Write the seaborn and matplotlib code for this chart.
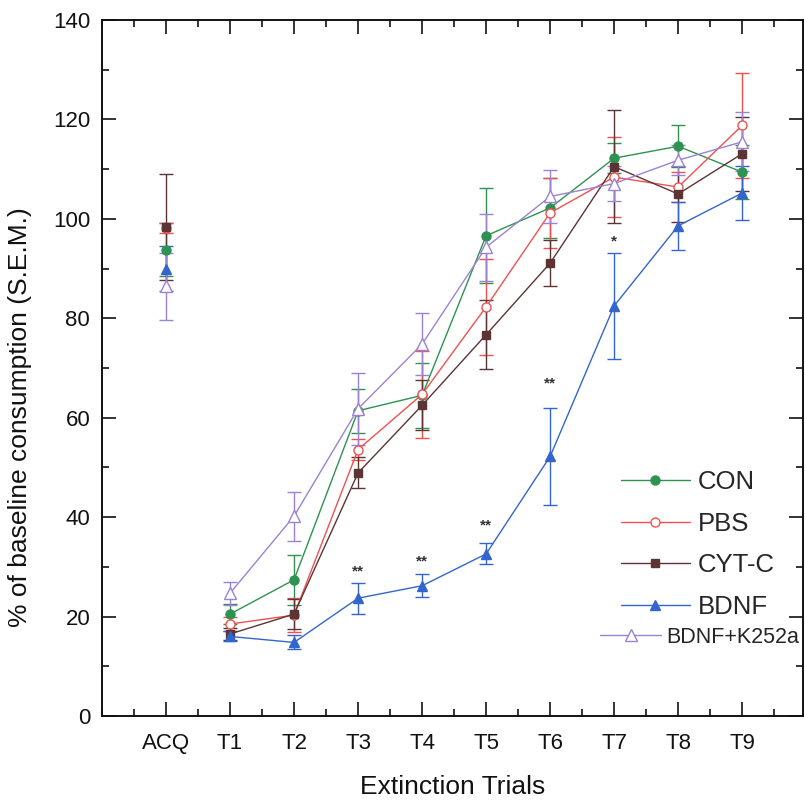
import matplotlib
matplotlib.use("Agg")
import matplotlib.pyplot as plt
from matplotlib.lines import Line2D
from matplotlib.ticker import MultipleLocator
import numpy as np
import pandas as pd
import seaborn as sns

# ---- data ----
trials = ["ACQ", "T1", "T2", "T3", "T4", "T5", "T6", "T7", "T8", "T9"]
groups = ["CON", "PBS", "CYT-C", "BDNF", "BDNF+K252a"]

con_mean = [93.8, 20.5, 27.4, 61.4, 64.5, 96.6, 102.2, 112.2, 114.6, 109.4]
con_sem = [5.3, 2.0, 5.0, 4.4, 6.6, 9.6, 6.0, 3.0, 4.2, 5.5]
pbs_mean = [98.2, 18.5, 20.3, 53.6, 64.7, 82.3, 101.2, 108.4, 106.4, 118.8]
pbs_sem = [1.0, 1.5, 3.5, 2.2, 8.8, 9.7, 7.0, 8.0, 3.0, 10.6]
cyt_mean = [98.4, 16.5, 20.5, 48.9, 62.5, 76.7, 91.1, 110.5, 105.0, 113.1]
cyt_sem = [10.7, 1.2, 3.0, 3.1, 5.0, 7.0, 4.6, 11.3, 5.7, 7.4]
bdnf_mean = [90.0, 16.0, 14.8, 23.7, 26.2, 32.6, 52.2, 82.5, 98.6, 105.2]
bdnf_sem = [4.5, 1.0, 1.4, 3.1, 2.3, 2.1, 9.8, 10.6, 4.8, 5.5]
k252_mean = [86.4, 24.7, 40.2, 61.8, 74.8, 94.3, 104.5, 107.1, 111.8, 115.5]
k252_sem = [6.8, 2.3, 4.9, 7.2, 6.2, 6.7, 5.4, 3.5, 3.0, 5.9]

# significance marks for BDNF
star_trials = ["T3", "T4", "T5", "T6", "T7"]
star_labels = ["**", "**", "**", "**", "*"]
star_y = [29.0, 31.1, 38.4, 66.8, 95.4]

colors = {"CON": "#2e9350", "PBS": "#f25050", "CYT-C": "#5c3434",
          "BDNF": "#3366cc", "BDNF+K252a": "#9b82d2"}
markers = {"CON": "o", "PBS": "o", "CYT-C": "s", "BDNF": "^", "BDNF+K252a": "^"}
open_marker = {"CON": False, "PBS": True, "CYT-C": False, "BDNF": False, "BDNF+K252a": True}
msize = {"CON": 6.5, "PBS": 6.5, "CYT-C": 6.0, "BDNF": 7.5, "BDNF+K252a": 8.0}

means = dict(zip(groups, [con_mean, pbs_mean, cyt_mean, bdnf_mean, k252_mean]))
sems = dict(zip(groups, [con_sem, pbs_sem, cyt_sem, bdnf_sem, k252_sem]))

df = pd.concat(
    [pd.DataFrame({"trial": trials, "pos": np.arange(len(trials)),
                   "mean": means[g], "sem": sems[g], "group": g}) for g in groups],
    ignore_index=True,
)

sns.set_style("ticks")
plt.rcParams["font.family"] = ["Liberation Sans", "DejaVu Sans"]

fig = plt.figure(figsize=(8.05, 8.05), dpi=100)
ax = fig.add_axes([102 / 805, 89 / 805, 701 / 805, 696 / 805])

for g in groups:
    sub = df[df["group"] == g]
    trial_rows = sub[sub["trial"] != "ACQ"]
    acq_row = sub[sub["trial"] == "ACQ"]
    c = colors[g]
    face = "white" if open_marker[g] else c
    ax.errorbar(sub["pos"], sub["mean"], yerr=sub["sem"], fmt="none",
                ecolor=c, elinewidth=1.0, capsize=4.7, capthick=1.0, zorder=2)
    sns.lineplot(data=trial_rows, x="pos", y="mean", color=c, linewidth=1.0,
                 marker=markers[g], markersize=msize[g], markerfacecolor=face,
                 markeredgecolor=c, markeredgewidth=1.0, errorbar=None,
                 sort=False, ax=ax, zorder=3)
    ax.plot(acq_row["pos"], acq_row["mean"], linestyle="none", marker=markers[g],
            markersize=msize[g], markerfacecolor=face, markeredgecolor=c,
            markeredgewidth=1.0, zorder=3)

for t, lab, yv in zip(star_trials, star_labels, star_y):
    ax.text(trials.index(t), yv, lab, ha="center", va="center",
            fontsize=11, fontweight="bold", color="#333333")

ax.set_xlim(-1, 9.95)
ax.set_ylim(0, 140)
ax.set_xticks(np.arange(len(trials)))
ax.set_xticklabels(trials)
ax.xaxis.set_minor_locator(MultipleLocator(0.5))
ax.set_yticks(np.arange(0, 141, 20))
ax.yaxis.set_minor_locator(MultipleLocator(10))
ax.tick_params(which="both", direction="in", top=True, right=True,
               width=1.2, colors="#111111", labelcolor="#111111")
ax.tick_params(which="major", length=10, labelsize=16, pad=8.5)
ax.tick_params(which="minor", length=5)
ax.tick_params(axis="x", which="major", pad=12)
for sp in ax.spines.values():
    sp.set_linewidth(1.4)
    sp.set_color("#111111")

ax.set_xlabel("Extinction Trials", fontsize=19, color="#111111")
ax.set_ylabel("% of baseline consumption (S.E.M.)", fontsize=19, color="#111111")
ax.xaxis.set_label_coords(0.5, -0.085)
ax.yaxis.set_label_coords(-0.1, 0.43)


def handle(g):
    c = colors[g]
    return Line2D([0], [0], color=c, linewidth=1.0, marker=markers[g],
                  markersize=msize[g], markerfacecolor="white" if open_marker[g] else c,
                  markeredgecolor=c)


leg1 = ax.legend(handles=[handle(g) for g in groups[:4]], labels=groups[:4],
                 loc="upper left", bbox_to_anchor=(0.74, 0.353), frameon=False,
                 fontsize=18.5, handlelength=2.7, handletextpad=0.3,
                 labelspacing=0.68, borderpad=0, borderaxespad=0)
ax.add_artist(leg1)
ax.legend(handles=[handle(groups[4])], labels=groups[4:], loc="upper left",
          bbox_to_anchor=(0.711, 0.128), frameon=False, fontsize=15.5,
          handlelength=2.8, handletextpad=0.25, borderpad=0, borderaxespad=0)

fig.savefig("out.png", dpi=100)
